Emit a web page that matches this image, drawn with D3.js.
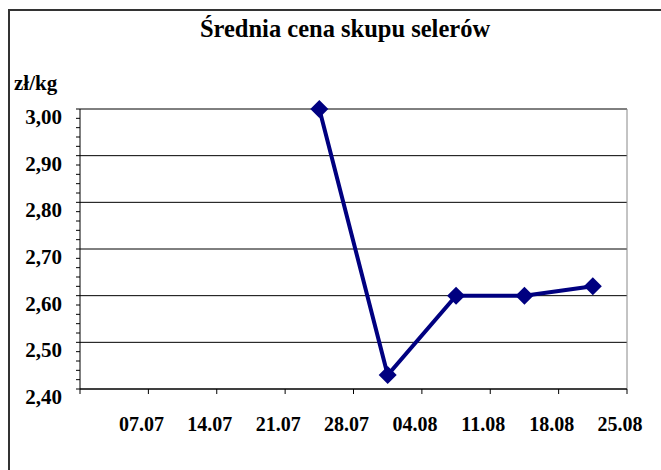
<!DOCTYPE html>
<html>
<head>
<meta charset="utf-8">
<script src="https://cdn.jsdelivr.net/npm/d3@7"></script>
<style>
body{margin:0;background:#fff}
text{font-family:"Liberation Serif","Times New Roman",serif;font-weight:bold;fill:#000}
</style>
</head>
<body>
<div id="chart"></div>
<script>
var title = "Średnia cena skupu selerów"
var unitLabel = "zł/kg"
var categories = ["07.07","14.07","21.07","28.07","04.08","11.08","18.08","25.08"]
var prices = [null,null,null,3.00,2.43,2.60,2.60,2.62]
var yTicks = [2.40,2.50,2.60,2.70,2.80,2.90,3.00]

var width = 661
var height = 470
var plotLeft = 80, plotRight = 627, plotTop = 109, plotBottom = 389

var svg = d3.select("#chart").append("svg").attr("width",width).attr("height",height)

// outer frame (only left and top visible in the picture)
svg.append("rect")
.attr("x",9).attr("y",10).attr("width",700).attr("height",500)
.attr("fill","none").attr("stroke","#333").attr("stroke-width",2)

svg.append("text").text(title)
.attr("x",345).attr("y",37)
.attr("text-anchor","middle")
.style("font-size","24.5px")

svg.append("text").text(unitLabel)
.attr("x",14).attr("y",90)
.style("font-size","21px")

var xScale = d3.scaleBand().domain(categories).range([plotLeft,plotRight])
var yScale = d3.scaleLinear().domain([2.40,3.00]).range([plotBottom,plotTop])

// gridlines
svg.selectAll(".grid")
.data(yTicks)
.enter()
.append("line")
.attr("x1",plotLeft).attr("x2",plotRight)
.attr("y1",function(d){return yScale(d)})
.attr("y2",function(d){return yScale(d)})
.attr("stroke","#000").attr("stroke-width",1)

// plot area right edge
svg.append("line")
.attr("x1",plotRight).attr("x2",plotRight).attr("y1",plotTop).attr("y2",plotBottom)
.attr("stroke","#888").attr("stroke-width",1)

// y axis with minor ticks
var minor = d3.range(0,31).map(function(i){return 2.40+i*0.02})
svg.selectAll(".ytick")
.data(minor)
.enter()
.append("line")
.attr("x1",plotLeft-4).attr("x2",plotLeft)
.attr("y1",function(d){return yScale(d)})
.attr("y2",function(d){return yScale(d)})
.attr("stroke","#000")
svg.append("line")
.attr("x1",plotLeft).attr("x2",plotLeft).attr("y1",plotTop).attr("y2",plotBottom)
.attr("stroke","#000")

svg.selectAll(".ylab")
.data(yTicks)
.enter()
.append("text")
.attr("x",62)
.attr("y",function(d){return yScale(d)+15})
.attr("text-anchor","end")
.style("font-size","21px")
.text(function(d){return d.toFixed(2).replace(".",",")})

// x axis
svg.append("line")
.attr("x1",plotLeft).attr("x2",plotRight).attr("y1",plotBottom).attr("y2",plotBottom)
.attr("stroke","#000")
var bounds = [plotLeft].concat(categories.map(function(c){return xScale(c)+xScale.bandwidth()}))
svg.selectAll(".xtick")
.data(bounds)
.enter()
.append("line")
.attr("x1",function(d){return d}).attr("x2",function(d){return d})
.attr("y1",plotBottom).attr("y2",plotBottom+5)
.attr("stroke","#000")

svg.selectAll(".xlab")
.data(categories)
.enter()
.append("text")
.attr("x",function(d){return xScale(d)+xScale.bandwidth()-7})
.attr("y",431)
.attr("text-anchor","middle")
.style("font-size","20px")
.text(function(d){return d})

// series
var pts = categories.map(function(c,i){return {c:c,v:prices[i]}}).filter(function(d){return d.v!=null})
var line = d3.line()
.x(function(d){return xScale(d.c)+xScale.bandwidth()/2})
.y(function(d){return yScale(d.v)})
svg.append("path").datum(pts)
.attr("d",line)
.attr("fill","none").attr("stroke","#000080").attr("stroke-width",4)

var r = 9
svg.selectAll(".marker")
.data(pts)
.enter()
.append("path")
.attr("transform",function(d){return "translate("+(xScale(d.c)+xScale.bandwidth()/2)+","+yScale(d.v)+")"})
.attr("d","M0,"+(-r)+"L"+r+",0L0,"+r+"L"+(-r)+",0Z")
.attr("fill","#000080")
</script>
</body>
</html>
